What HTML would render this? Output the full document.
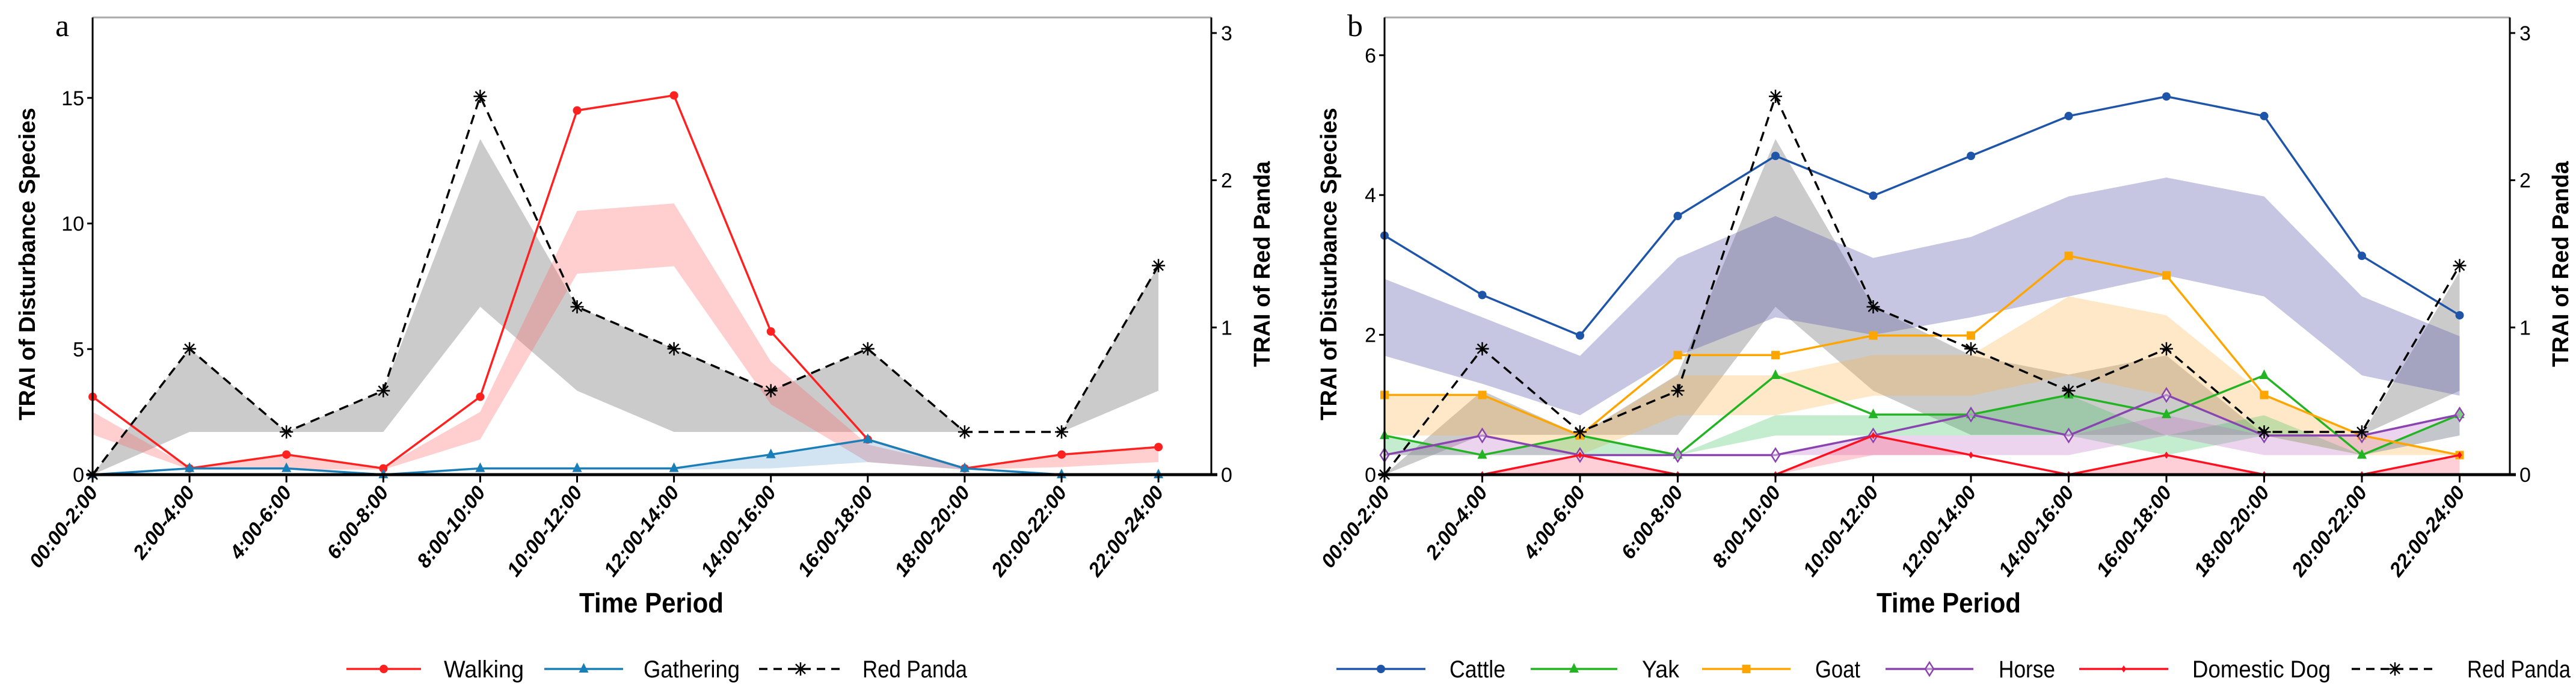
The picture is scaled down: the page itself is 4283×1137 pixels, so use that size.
<!DOCTYPE html>
<html><head><meta charset="utf-8"><style>
html,body{margin:0;padding:0;background:#fff}
svg{display:block;font-family:"Liberation Sans",sans-serif}
</style></head><body>
<svg id="chart" width="4283" height="1137" viewBox="0 0 4283 1137" xmlns="http://www.w3.org/2000/svg"></svg>
<script>
const categories=["00:00-2:00","2:00-4:00","4:00-6:00","6:00-8:00","8:00-10:00","10:00-12:00","12:00-14:00","14:00-16:00","16:00-18:00","18:00-20:00","20:00-22:00","22:00-24:00"];
// Panel a (left axis)
const walking=[3.1,0.25,0.8,0.25,3.1,14.5,15.1,5.7,1.4,0.25,0.8,1.1];
const walkingLow=[1.6,0.2,0.2,0.2,1.4,8.0,8.3,2.8,0.5,0.2,0.3,0.5];
const walkingHigh=[2.5,0.3,0.8,0.3,2.5,10.5,10.8,4.5,1.2,0.3,0.8,1.1];
const gathering=[0,0.25,0.25,0,0.25,0.25,0.25,0.8,1.4,0.25,0,0];
const gatheringLow=[0,0.2,0.2,0,0.2,0.2,0.2,0.25,0.5,0.2,0,0];
const gatheringHigh=[0,0.25,0.25,0,0.25,0.25,0.25,0.8,1.4,0.25,0,0];
// Red panda (right axis), shared by both panels
const panda=[0,0.855,0.29,0.57,2.57,1.14,0.855,0.57,0.855,0.29,0.29,1.42];
const pandaLowA=[0,0.29,0.29,0.29,1.14,0.57,0.29,0.29,0.29,0.29,0.29,0.57];
const pandaHighA=[0,0.855,0.29,0.57,2.28,1.14,0.855,0.57,0.855,0.29,0.29,1.42];
const pandaLowB=[0,0.27,0.27,0.27,1.14,0.57,0.27,0.27,0.27,0.27,0.27,0.57];
const pandaHighB=[0,0.57,0.27,0.68,2.28,1.14,0.81,0.68,0.81,0.27,0.27,1.38];
// Panel b (left axis)
const cattle=[3.42,2.57,1.99,3.70,4.56,3.99,4.56,5.13,5.41,5.13,3.13,2.28];
const cattleLow=[1.7,1.3,0.85,1.7,2.25,2.0,2.25,2.55,2.85,2.55,1.42,1.13];
const cattleHigh=[2.8,2.25,1.7,3.1,3.7,3.1,3.4,3.98,4.25,3.98,2.55,1.98];
const yak=[0.56,0.28,0.56,0.28,1.42,0.86,0.86,1.14,0.86,1.42,0.28,0.86];
const yakLow=[0.28,0.28,0.28,0.28,0.56,0.56,0.56,0.56,0.28,0.56,0.28,0.56];
const yakHigh=[0.56,0.28,0.56,0.28,0.85,0.85,0.85,1.14,0.56,0.85,0.28,0.86];
const goat=[1.14,1.14,0.56,1.71,1.71,1.99,1.99,3.13,2.85,1.14,0.56,0.28];
const goatLow=[0.56,0.56,0.28,0.85,0.85,1.13,1.13,1.42,1.13,0.56,0.28,0.28];
const goatHigh=[1.14,1.14,0.56,1.42,1.42,1.71,1.71,2.55,2.28,1.14,0.56,0.28];
const horse=[0.28,0.56,0.28,0.28,0.28,0.56,0.86,0.56,1.14,0.56,0.56,0.86];
const horseLow=[0.28,0.28,0.28,0.28,0.28,0.28,0.28,0.28,0.56,0.28,0.28,0.56];
const horseHigh=[0.28,0.56,0.28,0.28,0.28,0.56,0.56,0.56,0.85,0.56,0.56,0.86];
const dog=[null,0,0.28,0,0,0.56,0.28,0,0.28,0,0,0.28];
const dogLow=[null,0,0,0,0,0.28,0.28,0,0,0,0,0];
const dogHigh=[null,0,0.28,0,0,0.56,0.28,0,0.28,0,0,0.28];
const leftTicksA=[0,5,10,15];
const leftTicksB=[0,2,4,6];
const rightTicks=[0,1,2,3];

const svg=document.getElementById('chart');
const NS='http://www.w3.org/2000/svg';
function mk(tag,attrs,parent,text){const e=document.createElementNS(NS,tag);for(const k in attrs)e.setAttribute(k,attrs[k]);if(text!==undefined)e.textContent=text;(parent||svg).appendChild(e);return e;}

function panel(cfg){
  const g=mk('g',{});
  
  
  const x0=cfg.x0,xR=cfg.xR,y0=789,yTop=29,step=cfg.step;
  const X=i=>x0+i*step;
  const YL=v=>y0-v*cfg.leftPx;
  const YR=v=>y0-v*244.7;
  const fr=mk('path',{d:`M${x0} ${yTop}H${xR}`,stroke:'#aaa','stroke-width':3,fill:'none'},g);
  
  
  function band(lo,hi,Y,color,op,name){
    let pts=[],back=[];
    for(let i=0;i<lo.length;i++){if(lo[i]===null)continue;pts.push(X(i)+','+Y(hi[i]));back.unshift(X(i)+','+Y(lo[i]));}
    const p=mk('polygon',{points:pts.concat(back).join(' '),fill:color,'fill-opacity':op},g);
    
    
  }
  cfg.bands.forEach(b=>band(b.lo,b.hi,b.right?YR:YL,b.color,b.op,b.name));
  function marker(type,x,y,color,parent){
    if(type==='circle')mk('circle',{cx:x,cy:y,r:7,fill:color},parent);
    else if(type==='tri')mk('polygon',{points:`${x},${y-10} ${x-8},${y+6} ${x+8},${y+6}`,fill:color},parent);
    else if(type==='square')mk('rect',{x:x-7,y:y-7,width:14,height:14,fill:color},parent);
    else if(type==='diamond')mk('polygon',{points:`${x},${y-11} ${x-7},${y} ${x},${y+11} ${x+7},${y}`,fill:'#fff','fill-opacity':0.4,stroke:color,'stroke-width':2.5},parent);
    else if(type==='dot')mk('polygon',{points:`${x},${y-6} ${x-4},${y} ${x},${y+6} ${x+4},${y}`,fill:color},parent);
    else if(type==='star'){const s=11;mk('path',{d:`M${x-s} ${y}H${x+s}M${x} ${y-s}V${y+s}M${x-8} ${y-8}L${x+8} ${y+8}M${x-8} ${y+8}L${x+8} ${y-8}`,stroke:color,'stroke-width':2.5},parent);}
  }
  function series(vals,Y,color,type,dash,name,w){
    const sg=mk('g',{},g);
    
    
    let d='';vals.forEach((v,i)=>{if(v===null)return;d+=(d?'L':'M')+X(i)+' '+Y(v);});
    mk('path',{d,fill:'none',stroke:color,'stroke-width':w||3.5,'stroke-dasharray':dash||'none'},sg);
    vals.forEach((v,i)=>{if(v!==null)marker(type,X(i),Y(v),color,sg);});
  }
  cfg.series.forEach(s=>series(s.vals,s.right?YR:YL,s.color,s.type,s.dash,s.name,s.w));
  const ax=mk('g',{},g);
  
  
  mk('path',{d:`M${x0} ${yTop}V${y0}`,stroke:'#000','stroke-width':3},ax);
  mk('path',{d:`M${x0-10} ${y0}H${xR+10}`,stroke:'#000','stroke-width':5},ax);
  mk('path',{d:`M${xR} ${yTop}V${y0}`,stroke:'#000','stroke-width':3},ax);
  cfg.leftTicks.forEach(t=>{
    mk('path',{d:`M${x0-9} ${YL(t)}H${x0}`,stroke:'#000','stroke-width':3},ax);
    const tl=mk('text',{x:x0-14,y:YL(t)+12,'text-anchor':'end','font-size':34},ax,String(t));
    
    
  });
  rightTicks.forEach(t=>{
    mk('path',{d:`M${xR} ${YR(t)}H${xR+9}`,stroke:'#000','stroke-width':3},ax);
    const tl=mk('text',{x:xR+16,y:YR(t)+12,'font-size':34},ax,String(t));
    
    
  });
  categories.forEach((c,i)=>{
    mk('path',{d:`M${X(i)} ${y0}V${y0+13}`,stroke:'#000','stroke-width':3},ax);
    const tl=mk('text',{transform:`translate(${X(i)+10},${y0+30}) rotate(-52)`,'text-anchor':'end','font-size':33,'font-weight':'bold','font-style':'italic'},ax,c);
    
    
  });
  const yt=mk('text',{transform:`translate(${cfg.ylx},${(yTop+y0)/2+30}) rotate(-90)`,'text-anchor':'middle','font-size':38,'font-weight':'bold'},g,'TRAI of Disturbance Species');
  
  
  const yr=mk('text',{transform:`translate(${xR+97},${(yTop+y0)/2+30}) rotate(-90)`,'text-anchor':'middle','font-size':38,'font-weight':'bold'},g,'TRAI of Red Panda');
  
  
  const xt=mk('text',{x:cfg.xtx,y:1018,'text-anchor':'middle','font-size':46,'font-weight':'bold',textLength:240,lengthAdjust:'spacingAndGlyphs'},g,'Time Period');
  
  
  const lt=mk('text',{x:cfg.x0-62,y:60,'font-size':52,'font-family':'"Liberation Serif",serif'},g,cfg.letter);
  
  
  cfg.legend.forEach(l=>{
    const lg=mk('g',{},g);
    
    
    mk('path',{d:`M${l.x1} 1112H${l.x2}`,stroke:l.color,'stroke-width':3.5,'stroke-dasharray':l.dash||'none'},lg);
    marker(l.type,(l.x1+l.x2)/2,1112,l.color,lg);
    mk('text',{x:l.tx,y:1126,'font-size':40,textLength:l.tw,lengthAdjust:'spacingAndGlyphs'},lg,l.label);
  });
}

panel({name:'panel-a',letter:'a',x0:154,xR:2014,step:161.1,leftPx:41.75,leftTicks:leftTicksA,ylx:58,xtx:1083,
  bands:[
    {lo:pandaLowA,hi:pandaHighA,right:true,color:'#a8a8a8',op:0.6,name:'red-panda-band'},
    {lo:walkingLow,hi:walkingHigh,color:'#ff6b6b',op:0.32,name:'walking-band'},
    {lo:gatheringLow,hi:gatheringHigh,color:'#4a90c8',op:0.25,name:'gathering-band'}],
  series:[
    {vals:walking,color:'#ff2020',type:'circle',name:'walking-series'},
    {vals:gathering,color:'#1a7fb8',type:'tri',name:'gathering-series'},
    {vals:panda,right:true,color:'#000',type:'star',dash:'16 10',name:'red-panda-series'}],
  legend:[
    {x1:576,x2:700,tx:738,tw:133,label:'Walking',color:'#ff2020',type:'circle'},
    {x1:905,x2:1036,tx:1070,tw:160,label:'Gathering',color:'#1a7fb8',type:'tri'},
    {x1:1262,x2:1400,tx:1434,tw:174,label:'Red Panda',color:'#000',type:'star',dash:'14 10'}]
});
panel({name:'panel-b',letter:'b',x0:2302,xR:4173,step:162.5,leftPx:116.2,leftTicks:leftTicksB,ylx:2222,xtx:3240,
  bands:[
    {lo:pandaLowB,hi:pandaHighB,right:true,color:'#a8a8a8',op:0.6,name:'red-panda-band'},
    {lo:cattleLow,hi:cattleHigh,color:'#5c5cb0',op:0.35,name:'cattle-band'},
    {lo:goatLow,hi:goatHigh,color:'#ffb347',op:0.3,name:'goat-band'},
    {lo:yakLow,hi:yakHigh,color:'#3cc060',op:0.3,name:'yak-band'},
    {lo:horseLow,hi:horseHigh,color:'#c070c8',op:0.3,name:'horse-band'},
    {lo:dogLow,hi:dogHigh,color:'#ff4060',op:0.25,name:'dog-band'}],
  series:[
    {vals:cattle,color:'#1f55a8',type:'circle',name:'cattle-series'},
    {vals:yak,color:'#22b422',type:'tri',name:'yak-series'},
    {vals:goat,color:'#ffa500',type:'square',name:'goat-series'},
    {vals:horse,color:'#8a44b0',type:'diamond',name:'horse-series'},
    {vals:dog,color:'#ff1020',type:'dot',name:'dog-series'},
    {vals:panda,right:true,color:'#000',type:'star',dash:'16 10',name:'red-panda-series'}],
  legend:[
    {x1:2222,x2:2370,tx:2410,tw:93,label:'Cattle',color:'#1f55a8',type:'circle'},
    {x1:2545,x2:2689,tx:2730,tw:62,label:'Yak',color:'#22b422',type:'tri'},
    {x1:2830,x2:2977,tx:3018,tw:75,label:'Goat',color:'#ffa500',type:'square'},
    {x1:3135,x2:3281,tx:3323,tw:94,label:'Horse',color:'#8a44b0',type:'diamond'},
    {x1:3457,x2:3605,tx:3645,tw:230,label:'Domestic Dog',color:'#ff1020',type:'dot'},
    {x1:3910,x2:4054,tx:4102,tw:172,label:'Red Panda',color:'#000',type:'star',dash:'14 10'}]
});
</script>
</body></html>
